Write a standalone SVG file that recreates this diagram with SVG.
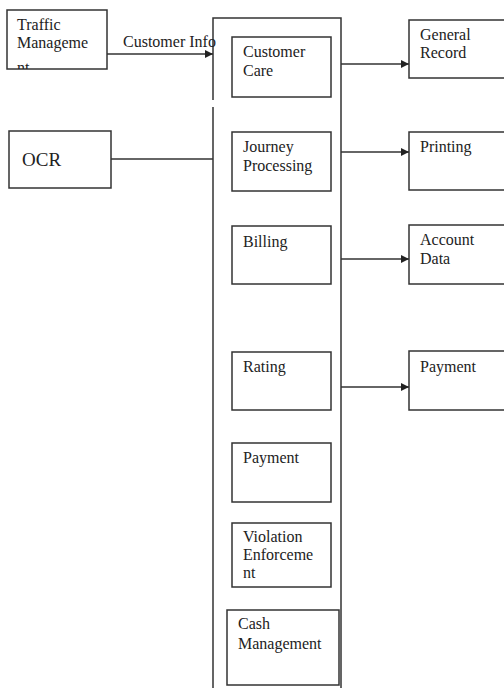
<svg xmlns="http://www.w3.org/2000/svg" width="504" height="688" viewBox="0 0 504 688">
<style>
.box{fill:#fff;stroke:#333;stroke-width:1.5}
.ln{stroke:#333;stroke-width:1.5;fill:none}
text{font-family:"Liberation Serif","Times New Roman",serif;font-size:16px;fill:#222}
</style>
<defs>
<marker id="ah" viewBox="0 0 10 10" refX="10" refY="5" markerWidth="8" markerHeight="8" markerUnits="userSpaceOnUse" orient="auto">
<path d="M0,0 L10,5 L0,10 z" fill="#222"/>
</marker>
<clipPath id="tmclip"><rect x="7" y="10" width="100" height="59"/></clipPath>
</defs>
<rect width="504" height="688" fill="#fff"/>
<g id="container">
<path class="ln" d="M213,100 V18 H341 V688 M213,107 V688"/>
</g>
<g id="connectors">
<line class="ln" x1="107" y1="54" x2="213" y2="54" marker-end="url(#ah)"/>
<text x="123" y="47">Customer Info</text>
<line class="ln" x1="111" y1="159" x2="213" y2="159"/>
<line class="ln" x1="341" y1="64" x2="409" y2="64" marker-end="url(#ah)"/>
<line class="ln" x1="341" y1="152" x2="409" y2="152" marker-end="url(#ah)"/>
<line class="ln" x1="341" y1="259" x2="409" y2="259" marker-end="url(#ah)"/>
<line class="ln" x1="341" y1="387" x2="409" y2="387" marker-end="url(#ah)"/>
</g>
<g id="traffic">
<rect class="box" x="7" y="10" width="100" height="59"/>
<g clip-path="url(#tmclip)">
<text x="17" y="30">Traffic</text>
<text x="17" y="48">Manageme</text>
<text x="17" y="73">nt</text>
</g>
</g>
<g id="ocr">
<rect class="box" x="9" y="131" width="102" height="57"/>
<text x="22" y="166" style="font-size:19px">OCR</text>
</g>
<g id="customer-care">
<rect class="box" x="232" y="37" width="99" height="60"/>
<text x="243" y="57">Customer</text>
<text x="243" y="76">Care</text>
</g>
<g id="journey">
<rect class="box" x="232" y="132" width="99" height="59"/>
<text x="243" y="152">Journey</text>
<text x="243" y="171">Processing</text>
</g>
<g id="billing">
<rect class="box" x="232" y="226" width="99" height="58"/>
<text x="243" y="247">Billing</text>
</g>
<g id="rating">
<rect class="box" x="232" y="352" width="99" height="58"/>
<text x="243" y="372">Rating</text>
</g>
<g id="payment-mid">
<rect class="box" x="232" y="443" width="99" height="59"/>
<text x="243" y="463">Payment</text>
</g>
<g id="violation">
<rect class="box" x="232" y="523" width="99" height="64"/>
<text x="243" y="542">Violation</text>
<text x="243" y="560">Enforceme</text>
<text x="243" y="578">nt</text>
</g>
<g id="cash">
<rect class="box" x="227" y="610" width="112" height="75"/>
<text x="238" y="629">Cash</text>
<text x="238" y="649">Management</text>
</g>
<g id="general-record">
<rect class="box" x="409" y="20" width="110" height="58"/>
<text x="420" y="40">General</text>
<text x="420" y="58">Record</text>
</g>
<g id="printing">
<rect class="box" x="409" y="132" width="110" height="58"/>
<text x="420" y="152">Printing</text>
</g>
<g id="account-data">
<rect class="box" x="409" y="225" width="110" height="59"/>
<text x="420" y="245">Account</text>
<text x="420" y="264">Data</text>
</g>
<g id="payment-right">
<rect class="box" x="409" y="351" width="110" height="59"/>
<text x="420" y="372">Payment</text>
</g>
</svg>
